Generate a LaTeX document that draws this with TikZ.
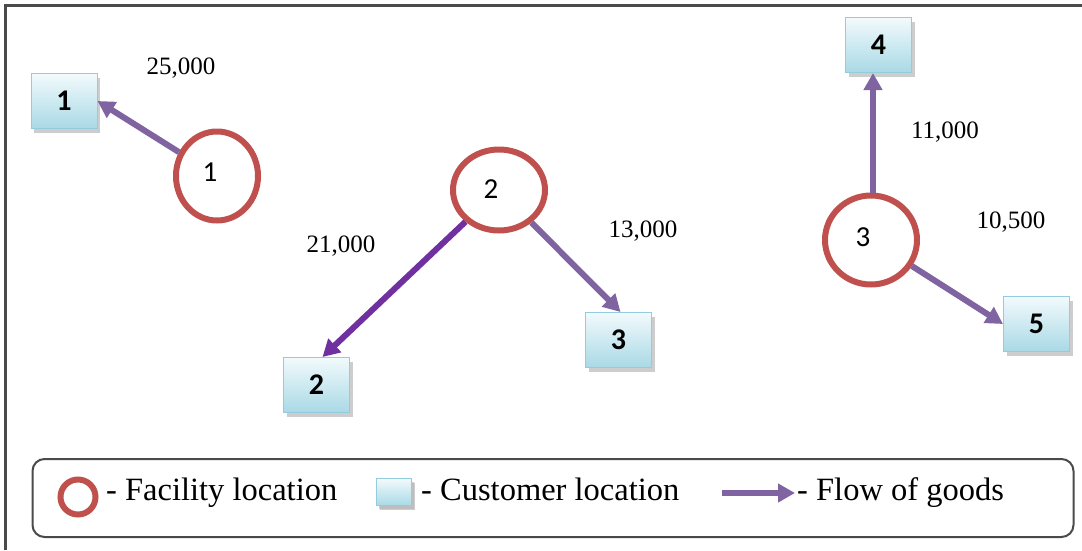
\documentclass[tikz,border=0pt]{standalone}
\usepackage{fontspec}
\setmainfont{Liberation Serif}
\newfontfamily\boxfont{Carlito}
\usetikzlibrary{shapes.geometric,shadows,arrows.meta,calc}
\definecolor{facred}{HTML}{C0504D}
\definecolor{flowpurple}{HTML}{8064A2}
\definecolor{flowdark}{HTML}{7030A0}
\definecolor{boxtop}{HTML}{F2FAFC}
\definecolor{boxbot}{HTML}{A9D9E6}
\definecolor{boxline}{HTML}{93CDDD}
\definecolor{framegray}{HTML}{4A4A4A}
\begin{document}
\begin{tikzpicture}[x=1pt,y=-1pt,
  facility/.style={ellipse,draw=facred,line width=6pt,inner sep=0pt},
  custbox/.style={rectangle,draw=boxline,line width=1pt,top color=boxtop,bottom color=boxbot,
    minimum width=66pt,minimum height=55pt,inner sep=0pt,
    font=\boxfont\bfseries\fontsize{30}{34}\selectfont,
    drop shadow={shadow xshift=3pt,shadow yshift=-4pt,fill=gray!55,opacity=0.7}},
  flow/.style={draw=flowpurple,line width=6pt,-{Triangle[length=17pt,width=18pt]}},
  flowalt/.style={flow,draw=flowdark},
  amount/.style={anchor=base,inner sep=0pt,font=\fontsize{25}{30}\selectfont},
  circlab/.style={inner sep=0pt,font=\boxfont\fontsize{29}{32}\selectfont},
  legtext/.style={anchor=base west,inner sep=0pt,font=\fontsize{32.5}{38}\selectfont}]
\useasboundingbox (0,0) rectangle (1082,550);
\fill[white] (0,0) rectangle (1082,550);
% outer frame (only left and top visible)
\draw[framegray,line width=3pt] (5.5,550) -- (5.5,5) -- (1082,5);

% facilities
\node[facility,minimum width=82pt,minimum height=89pt] (f1) at (217,176) {};
\node[facility,minimum width=92pt,minimum height=81pt] (f2) at (499,190) {};
\node[facility,minimum width=92pt,minimum height=89pt] (f3) at (871,240) {};
\node[circlab] (f1l) at (210,172) {1};
\node[circlab] (f2l) at (491,189) {2};
\node[circlab] (f3l) at (863,237) {3};

% customers
\node[custbox] (c1) at (64,101) {1};
\node[custbox] (c2) at (316.5,385) {2};
\node[custbox] (c3) at (618.5,340) {3};
\node[custbox] (c4) at (878.5,45) {4};
\node[custbox] (c5) at (1036.5,324) {5};

% flows
\draw[flow] (f1) -- (c1.east);
\draw[flowalt] (f2) -- ($(c2.north)+(6,0)$);
\draw[flow] (f2) -- ($(c3.north)+(2,0)$);
\draw[flow] (f3.north -| 873,0) -- (873,0 |- c4.south);
\draw[flow] (f3) -- (c5.west);

% amounts
\node[amount] (a1) at (181,74) {25,000};
\node[amount] (a2) at (341,252) {21,000};
\node[amount] (a3) at (643,237) {13,000};
\node[amount] (a4) at (945,138) {11,000};
\node[amount] (a5) at (1011,228) {10,500};

% legend
\node[draw=framegray,line width=2pt,rounded corners=12pt,minimum width=1041pt,minimum height=78pt,inner sep=0pt] (legend) at (553,498) {};
\node[facility,minimum width=35pt,minimum height=35pt] (lf) at (78,497) {};
\node[legtext] (lft) at (106,500) {- Facility location};
\node[custbox,minimum width=35pt,minimum height=27pt,drop shadow={shadow xshift=2pt,shadow yshift=-3pt,fill=gray!55,opacity=0.7}] (lc) at (394,492) {};
\node[legtext] (lct) at (421,500) {- Customer location};
\coordinate (la1) at (722,493);
\coordinate (la2) at (795,493);
\draw[flow] (la1) -- (la2);
\node[legtext] (lat) at (797,500) {- Flow of goods};
\end{tikzpicture}
\end{document}
